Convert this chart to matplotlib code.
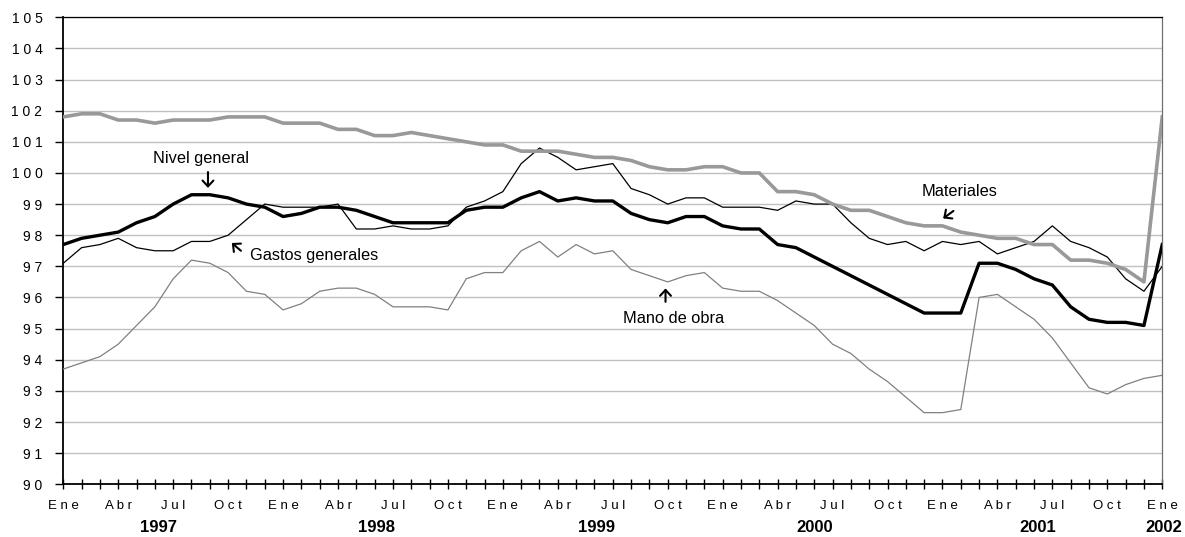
import matplotlib
matplotlib.use("Agg")
import matplotlib.pyplot as plt
import matplotlib.transforms as mtransforms
import numpy as np

plt.rcParams['font.family'] = ['Liberation Sans', 'DejaVu Sans']

# monthly indices, Ene 1997 .. Ene 2002
materiales = [101.8, 101.9, 101.9, 101.7, 101.7, 101.6, 101.7, 101.7, 101.7, 101.8,
              101.8, 101.8, 101.6, 101.6, 101.6, 101.4, 101.4, 101.2, 101.2, 101.3,
              101.2, 101.1, 101.0, 100.9, 100.9, 100.7, 100.7, 100.7, 100.6, 100.5,
              100.5, 100.4, 100.2, 100.1, 100.1, 100.2, 100.2, 100.0, 100.0, 99.4,
              99.4, 99.3, 99.0, 98.8, 98.8, 98.6, 98.4, 98.3, 98.3, 98.1,
              98.0, 97.9, 97.9, 97.7, 97.7, 97.2, 97.2, 97.1, 96.9, 96.5,
              101.8]
nivel_general = [97.7, 97.9, 98.0, 98.1, 98.4, 98.6, 99.0, 99.3, 99.3, 99.2,
                 99.0, 98.9, 98.6, 98.7, 98.9, 98.9, 98.8, 98.6, 98.4, 98.4,
                 98.4, 98.4, 98.8, 98.9, 98.9, 99.2, 99.4, 99.1, 99.2, 99.1,
                 99.1, 98.7, 98.5, 98.4, 98.6, 98.6, 98.3, 98.2, 98.2, 97.7,
                 97.6, 97.3, 97.0, 96.7, 96.4, 96.1, 95.8, 95.5, 95.5, 95.5,
                 97.1, 97.1, 96.9, 96.6, 96.4, 95.7, 95.3, 95.2, 95.2, 95.1,
                 97.7]
gastos_generales = [97.1, 97.6, 97.7, 97.9, 97.6, 97.5, 97.5, 97.8, 97.8, 98.0,
                    98.5, 99.0, 98.9, 98.9, 98.9, 99.0, 98.2, 98.2, 98.3, 98.2,
                    98.2, 98.3, 98.9, 99.1, 99.4, 100.3, 100.8, 100.5, 100.1, 100.2,
                    100.3, 99.5, 99.3, 99.0, 99.2, 99.2, 98.9, 98.9, 98.9, 98.8,
                    99.1, 99.0, 99.0, 98.4, 97.9, 97.7, 97.8, 97.5, 97.8, 97.7,
                    97.8, 97.4, 97.6, 97.8, 98.3, 97.8, 97.6, 97.3, 96.6, 96.2,
                    97.0]
mano_de_obra = [93.7, 93.9, 94.1, 94.5, 95.1, 95.7, 96.6, 97.2, 97.1, 96.8,
                96.2, 96.1, 95.6, 95.8, 96.2, 96.3, 96.3, 96.1, 95.7, 95.7,
                95.7, 95.6, 96.6, 96.8, 96.8, 97.5, 97.8, 97.3, 97.7, 97.4,
                97.5, 96.9, 96.7, 96.5, 96.7, 96.8, 96.3, 96.2, 96.2, 95.9,
                95.5, 95.1, 94.5, 94.2, 93.7, 93.3, 92.8, 92.3, 92.3, 92.4,
                96.0, 96.1, 95.7, 95.3, 94.7, 93.9, 93.1, 92.9, 93.2, 93.4,
                93.5]

month_names = ['Ene', 'Abr', 'Jul', 'Oct']
years = ['1997', '1998', '1999', '2000', '2001', '2002']
year_pos = [5.2, 17.1, 29.1, 41.0, 53.2, 60.1]


def spaced(s):
    return ' '.join(s)


x = np.arange(len(materiales))

fig = plt.figure(figsize=(11.85, 5.37), dpi=100)
ax = fig.add_axes([0.0534, 0.0982, 0.9274, 0.8696])

ax.plot(x, mano_de_obra, color='#808080', lw=0.9, zorder=3)
ax.plot(x, gastos_generales, color='black', lw=0.9, zorder=4)
ax.plot(x, materiales, color='#999999', lw=2.6, zorder=5)
ax.plot(x, nivel_general, color='black', lw=2.4, zorder=6)

ax.set_xlim(0, 60)
ax.set_ylim(90, 105)

yt = np.arange(90, 106)
ax.set_yticks(yt)
ax.set_yticklabels([spaced(str(v)) for v in yt], fontsize=10)
ax.yaxis.grid(True, color='#c0c0c0', lw=1)
ax.set_axisbelow(True)
ax.tick_params(axis='y', direction='out', length=6, width=1, pad=9)

ax.set_xticks(x)
ax.set_xticklabels([spaced(month_names[(i % 12) // 3]) if i % 3 == 0 else '' for i in x],
                   fontsize=9.5)
ax.tick_params(axis='x', direction='inout', length=7, width=1, pad=8)

for side in ['left', 'bottom']:
    ax.spines[side].set_linewidth(1.3)
ax.spines['top'].set_linewidth(0.9)
ax.spines['right'].set_color('#707070')
ax.spines['right'].set_linewidth(0.9)

trans = mtransforms.blended_transform_factory(ax.transData, fig.transFigure)
for yr, pos in zip(years, year_pos):
    ax.text(pos, 0.017, yr, transform=trans, ha='center', va='center',
            fontsize=12, fontweight='bold')

arrow = dict(arrowstyle='->,head_length=0.3,head_width=0.28', color='black',
             lw=1.5, mutation_scale=14, shrinkA=0, shrinkB=0)
ax.annotate('', xy=(7.9, 99.52), xytext=(7.9, 100.03), arrowprops=arrow)
ax.text(7.53, 100.45, 'Nivel general', ha='center', va='center', fontsize=11.8)

ax.annotate('', xy=(9.2, 97.75), xytext=(9.7, 97.5), arrowprops=arrow)
ax.text(10.2, 97.36, 'Gastos generales', ha='left', va='center', fontsize=11.8)

ax.annotate('', xy=(32.88, 96.29), xytext=(32.88, 95.86), arrowprops=arrow)
ax.text(33.3, 95.33, 'Mano de obra', ha='center', va='center', fontsize=11.8)

ax.annotate('', xy=(48.04, 98.54), xytext=(48.6, 98.78), arrowprops=arrow)
ax.text(48.96, 99.4, 'Materiales', ha='center', va='center', fontsize=11.8)

fig.savefig('out.png', dpi=100)
